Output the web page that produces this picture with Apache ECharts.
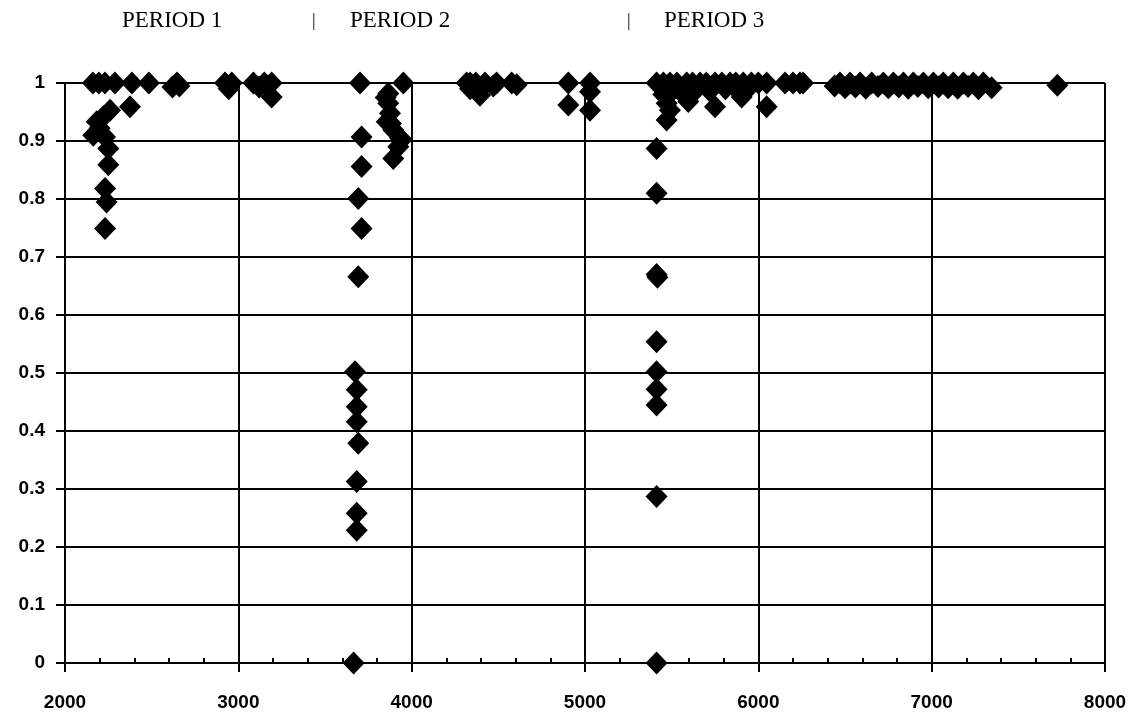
<!DOCTYPE html>
<html>
<head>
<meta charset="utf-8">
<script src="https://cdn.jsdelivr.net/npm/echarts@6/dist/echarts.min.js"></script>
<style>
  html, body { margin: 0; padding: 0; background: #fff; }
  #chart { width: 1137px; height: 717px; }
</style>
</head>
<body>
<div id="chart"></div>
<script>
// period labels along the top
const periodLabels = ['PERIOD 1', 'PERIOD 2', 'PERIOD 3'];

// x ticks / y ticks
const xTicks = [2000, 3000, 4000, 5000, 6000, 7000, 8000];
const yTicks = [0, 0.1, 0.2, 0.3, 0.4, 0.5, 0.6, 0.7, 0.8, 0.9, 1];

// period 1 points
const p1X = [2161, 2195, 2230, 2288, 2386, 2484, 2620, 2646, 2660, 2923, 2945, 2962, 3087, 3120, 3150, 3192, 3192,
  2375, 2260, 2221, 2183, 2200, 2163, 2231, 2250, 2250, 2231, 2240, 2231];
const p1Y = [1, 1, 1, 1, 1, 1, 0.993, 1, 0.995, 1, 0.99, 1, 1, 0.993, 1, 1, 0.976,
  0.959, 0.953, 0.942, 0.933, 0.922, 0.910, 0.907, 0.887, 0.859, 0.818, 0.795, 0.749];

// period 2 points
const p2X = [3702, 3711, 3711, 3692, 3711, 3692, 3673, 3683, 3683, 3683, 3692, 3683, 3683, 3683, 3665,
  3952, 3865, 3865, 3875, 3856, 3894, 3933, 3923, 3894, 3942, 3850, 3880,
  4317, 4337, 4337, 4370, 4394, 4423, 4471, 4490, 4577, 4606,
  4904, 4904, 5029, 5029, 5029];
const p2Y = [1, 0.907, 0.856, 0.801, 0.749, 0.666, 0.502, 0.471, 0.442, 0.416, 0.379, 0.313, 0.258, 0.229, 0,
  1, 0.982, 0.965, 0.948, 0.933, 0.919, 0.905, 0.890, 0.870, 0.902, 0.975, 0.930,
  1, 1, 0.990, 1, 0.979, 1, 0.995, 1, 1, 0.997,
  1, 0.962, 1, 0.985, 0.953];

// period 3 points
const p3X = [5413, 5413, 5413, 5413, 5418, 5413, 5413, 5413, 5413, 5413, 5413,
  5452, 5490, 5530, 5587, 5620, 5664, 5700, 5750, 5790, 5837, 5870, 5913, 5960, 6000, 6048, 6154, 6200, 6240, 6258,
  5452, 5471, 5490, 5471, 5587, 5596, 5750, 5904, 6048, 5510, 5560, 5640, 5720, 5810, 5880, 5940,
  6440, 6471, 6500, 6529, 6560, 6587, 6620, 6654, 6690, 6721, 6750, 6779, 6810, 6837, 6865, 6894, 6920, 6952, 6980, 7010,
  7040, 7067, 7095, 7125, 7150, 7183, 7210, 7240, 7270, 7298, 7346,
  7725];
const p3Y = [1, 0.887, 0.810, 0.670, 0.665, 0.554, 0.502, 0.472, 0.445, 0.287, 0,
  1, 1, 1, 1, 1, 1, 1, 1, 1, 1, 1, 1, 1, 1, 1, 1, 1, 1, 1,
  0.980, 0.965, 0.953, 0.936, 0.974, 0.968, 0.959, 0.976, 0.959, 0.988, 0.985, 0.988, 0.986, 0.990, 0.987, 0.990,
  0.995, 1, 0.992, 1, 0.993, 1, 0.991, 1, 0.994, 1, 0.992, 1, 0.993, 1, 0.991, 1, 0.994, 1, 0.992, 1,
  0.993, 1, 0.992, 1, 0.991, 1, 0.994, 1, 0.990, 1, 0.992,
  0.996];

const zip = (xs, ys) => xs.map((x, i) => [x, ys[i]]);

const serif = '"Liberation Serif", "DejaVu Serif", serif';
const sans = '"Liberation Sans", Arial, sans-serif';

function scatter(name, data) {
  return {
    name: name,
    type: 'scatter',
    symbol: 'diamond',
    symbolSize: [22, 23],
    itemStyle: { color: '#000', opacity: 1 },
    data: data,
    animation: false,
  };
}

const chart = echarts.init(document.getElementById('chart'), null, { renderer: 'canvas' });

chart.setOption({
  backgroundColor: '#fff',
  animation: false,
  grid: { left: 65, right: 32, top: 83, bottom: 54 },
  xAxis: {
    type: 'value',
    min: xTicks[0],
    max: xTicks[xTicks.length - 1],
    interval: 1000,
    axisLine: { show: true, onZero: false, lineStyle: { color: '#000', width: 2 } },
    axisTick: { show: true, length: 9, lineStyle: { color: '#000', width: 2 } },
    minorTick: { show: true, splitNumber: 5, length: -5, lineStyle: { color: '#000', width: 2 } },
    splitLine: { show: true, lineStyle: { color: '#000', width: 2 } },
    axisLabel: {
      margin: 30, color: '#000', fontFamily: sans, fontWeight: 'bold', fontSize: 19,
      formatter: v => String(v),
    },
  },
  yAxis: {
    type: 'value',
    min: yTicks[0],
    max: yTicks[yTicks.length - 1],
    interval: 0.1,
    axisLine: { show: true, lineStyle: { color: '#000', width: 2 } },
    axisTick: { show: true, length: 9, lineStyle: { color: '#000', width: 2 } },
    splitLine: { show: true, lineStyle: { color: '#000', width: 2 } },
    axisLabel: {
      margin: 20, color: '#000', fontFamily: sans, fontWeight: 'bold', fontSize: 19,
      formatter: v => String(Math.round(v * 10) / 10),
    },
  },
  graphic: [
    { type: 'text', left: 122, top: 9, style: { text: periodLabels[0], font: '23px ' + serif, fill: '#000' } },
    { type: 'text', left: 312, top: 12, style: { text: '|', font: '18px ' + serif, fill: '#000' } },
    { type: 'text', left: 350, top: 9, style: { text: periodLabels[1], font: '23px ' + serif, fill: '#000' } },
    { type: 'text', left: 627, top: 12, style: { text: '|', font: '18px ' + serif, fill: '#000' } },
    { type: 'text', left: 664, top: 9, style: { text: periodLabels[2], font: '23px ' + serif, fill: '#000' } },
  ],
  series: [
    scatter(periodLabels[0], zip(p1X, p1Y)),
    scatter(periodLabels[1], zip(p2X, p2Y)),
    scatter(periodLabels[2], zip(p3X, p3Y)),
  ],
});
</script>
</body>
</html>
